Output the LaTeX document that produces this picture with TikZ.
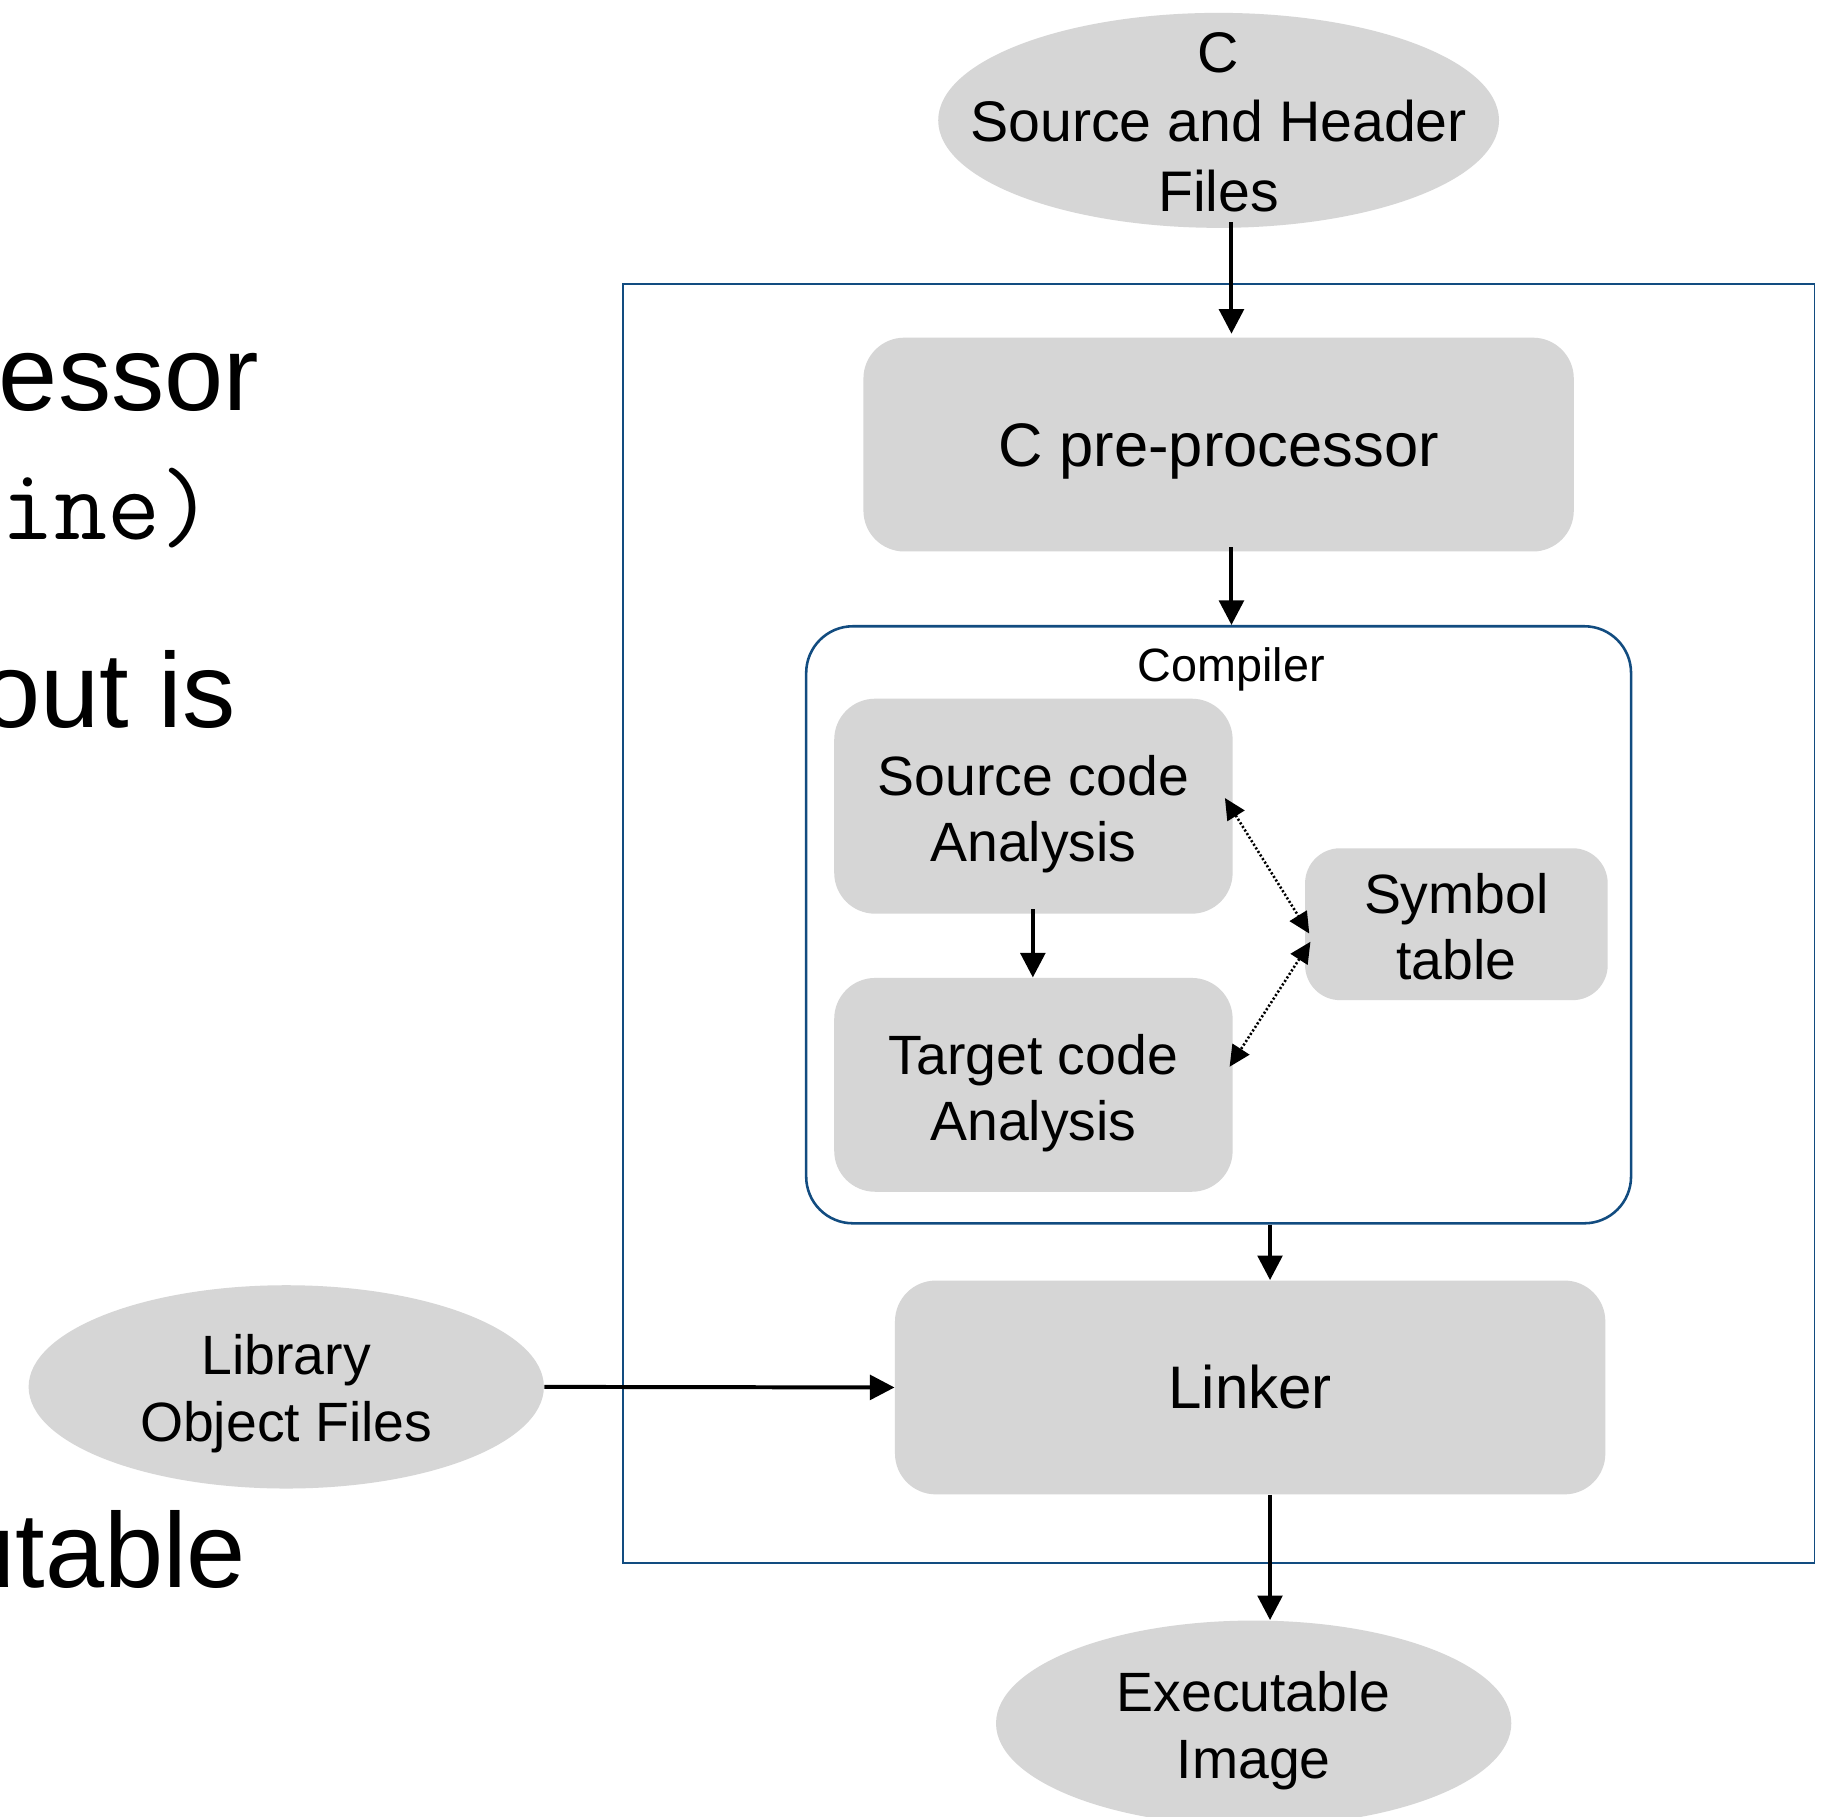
\documentclass[tikz,border=0pt]{standalone}
\usepackage{fontspec}
\setmainfont{Liberation Sans}
\usetikzlibrary{shapes.geometric,arrows.meta,calc}
\definecolor{boxgray}{RGB}{214,214,214}
\definecolor{frameblue}{RGB}{18,76,128}

\begin{document}
\begin{tikzpicture}[x=0.5pt,y=-0.5pt,
  procbox/.style={fill=boxgray, draw=none, rounded corners=17.5pt, inner sep=0pt},
  datanode/.style={fill=boxgray, draw=none, ellipse, inner sep=0pt},
  lbl/.style={align=center, inner sep=0pt},
  flow/.style={line width=1.7pt, -{Triangle[length=10.5pt,width=10.5pt]}},
  lookup/.style={line width=1.1pt, dash pattern=on 0.9pt off 0.9pt,
    {Triangle[length=9pt,width=8.5pt,sep=0pt]}-{Triangle[length=9pt,width=8.5pt,sep=0pt]}},
  bigtext/.style={inner sep=0pt, anchor=base east, font=\fontsize{45.5}{50}\selectfont},
  midfont/.style={font=\fontsize{23.7}{28.5}\selectfont}
]
% page area; everything outside is cut off
\path[use as bounding box, clip] (0,0) rectangle (1568,1555);
\fill[white] (0,0) rectangle (1568,1555);

% large slide text along the left edge
\node[bigtext] (t1) at (222,351) {essor};
\node[bigtext, font=\fontsize{44}{50}\ttfamily\addfontfeatures{LetterSpace=11}] (t2) at (183,462) {ine)};
\node[bigtext] (t3) at (202,623) {out is};
\node[bigtext] (t4) at (211,1359) {utable};

% toolchain frame
\draw[frameblue, line width=0.85pt] (533,243) rectangle (1553,1338);

% input files
\node[datanode, minimum width=240pt, minimum height=92pt] (src) at (1043,103) {};
\node[lbl, font=\fontsize{24.5}{29.75}\selectfont] (srctext) at ([yshift=-0.75pt]src.center)
  {C\\Source and Header\\Files};

% pre-processor
\node[procbox, minimum width=304pt, minimum height=91.5pt] (pre) at (1043,380.5) {};
\node[lbl, font=\fontsize{26.3}{30}\selectfont] (pretext) at ([yshift=-3pt]pre.center) {C pre-processor};

% compiler
\node[draw=frameblue, line width=1.1pt, rounded corners=20pt, fill=white, inner sep=0pt,
  minimum width=353pt, minimum height=255.5pt] (comp) at (1043,791.5) {};
\node[lbl, font=\fontsize{20}{24}\selectfont] (complbl) at (1054,573) {Compiler};

\node[procbox, minimum width=170.5pt, minimum height=92pt] (sca) at (884.5,690) {};
\node[lbl, midfont] (scatext) at ([yshift=-3.5pt]sca.center) {Source code\\Analysis};
\node[procbox, minimum width=170.5pt, minimum height=91.5pt] (tca) at (884.5,928.5) {};
\node[lbl, midfont] (tcatext) at ([yshift=-3.5pt]tca.center) {Target code\\Analysis};
\node[procbox, rounded corners=15pt, minimum width=129.5pt, minimum height=65pt] (sym) at (1246.5,791) {};
\node[lbl, midfont] (symtext) at ([yshift=-1pt]sym.center) {Symbol\\table};

% linker
\node[procbox, minimum width=304pt, minimum height=91.5pt] (link) at (1070,1187.5) {};
\node[lbl, font=\fontsize{25.7}{30}\selectfont] (linktext) at (link.center) {Linker};

% libraries and output
\node[datanode, minimum width=220.5pt, minimum height=87pt] (lib) at (245,1187) {};
\node[lbl, midfont] (libtext) at ([yshift=-3pt]lib.center) {Library\\Object Files};
\node[datanode, minimum width=220.5pt, minimum height=88pt] (exe) at (1073,1475) {};
\node[lbl, midfont] (exetext) at ([yshift=-3pt]exe.center) {Executable\\Image};

% connector columns
\coordinate (colA) at (1054,0);
\coordinate (colB) at (884,0);
\coordinate (colC) at (1087,0);

\draw[flow] ([yshift=2.5pt]src.south -| colA) -- ([yshift=1.5pt]pre.north -| colA);
\draw[flow] ([yshift=2pt]pre.south -| colA) -- (comp.north -| colA);
\draw[flow] ([yshift=2pt]sca.south -| colB) -- (tca.north -| colB);
\draw[flow] (comp.south -| colC) -- (link.north -| colC);
\draw[flow] (link.south -| colC) -- (exe.north -| colC);
\draw[flow] (lib.east) -- (link.west);

% symbol table lookups
\draw[lookup] ([shift={(-7,-7)}]sca.east) -- ([shift={(4,8)}]sym.west);
\draw[lookup] ([shift={(5,15)}]sym.west) -- ([shift={(-3,-15.5)}]tca.east);
\end{tikzpicture}
\end{document}
